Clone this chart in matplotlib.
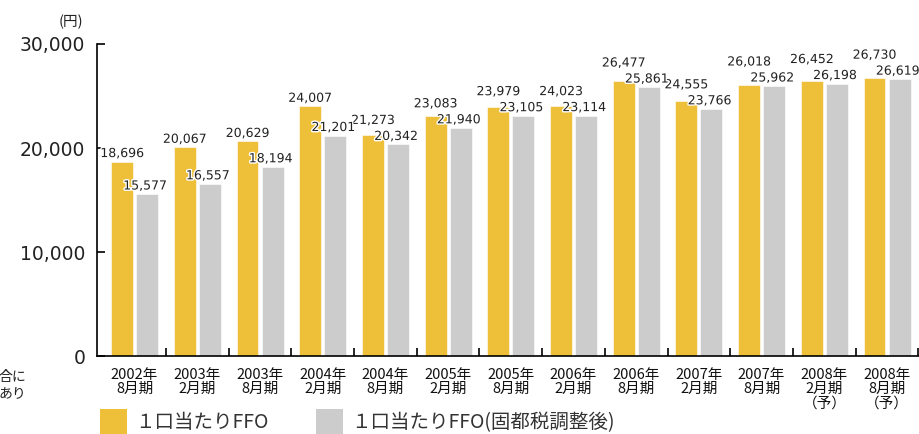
import matplotlib
matplotlib.use("Agg")
import matplotlib.pyplot as plt
import matplotlib.patheffects as pe
from matplotlib.patches import Rectangle
import numpy as np

categories = ["2002年\n8月期", "2003年\n2月期", "2003年\n8月期", "2004年\n2月期",
              "2004年\n8月期", "2005年\n2月期", "2005年\n8月期", "2006年\n2月期",
              "2006年\n8月期", "2007年\n2月期", "2007年\n8月期", "2008年\n2月期\n（予）",
              "2008年\n8月期\n（予）"]
ffo = [18696, 20067, 20629, 24007, 21273, 23083, 23979, 24023, 26477, 24555, 26018, 26452, 26730]
ffo_adj = [15577, 16557, 18194, 21201, 20342, 21940, 23105, 23114, 25861, 23766, 25962, 26198, 26619]
series_names = ["１口当たりFFO", "１口当たりFFO(固都税調整後)"]
yticks = [0, 10000, 20000, 30000]

YELLOW = "#EEC03A"
GRAY = "#CCCCCC"
CJK = ["Noto Sans CJK JP", "DejaVu Sans"]

fig = plt.figure(figsize=(9.2, 4.34), dpi=100)
ax = fig.add_axes([97/920, (434-356)/434, (919-97)/920, 312/434])

x = np.arange(len(categories))
w = 0.35
off = 0.2
ax.bar(x - off, ffo, width=w, color=YELLOW, edgecolor="white", linewidth=0.4)
ax.bar(x + off, ffo_adj, width=w, color=GRAY, edgecolor="white", linewidth=0.4)

ax.set_xlim(-0.6, 12.51)
ax.set_ylim(0, 30000)

# pixels per data unit (vertical)
px_per_unit = (ax.transData.transform((0, 1000))[1] - ax.transData.transform((0, 0))[1]) / 1000.0
pt_per_px = 72.0 / fig.dpi

stroke = [pe.withStroke(linewidth=2, foreground="white")]
lbl_kw = dict(textcoords="offset points", ha="center", va="baseline", fontsize=9,
              color="#222222", family="DejaVu Sans", path_effects=stroke,
              annotation_clip=False)
gap_px = 4.5
lift_px = 16.0
# yellow labels first, lifted above the gray label when needed
for xi, v, g in zip(x, ffo, ffo_adj):
    g_base_px = g * px_per_unit + gap_px
    y_base_px = max(v * px_per_unit + gap_px, g_base_px + lift_px)
    dy_px = y_base_px - v * px_per_unit
    ax.annotate(f"{v:,}", (xi - off, v), xytext=(0, dy_px * pt_per_px), zorder=4, **lbl_kw)
# gray labels on top, just above gray bars
for xi, g in zip(x, ffo_adj):
    ax.annotate(f"{g:,}", (xi + off, g), xytext=(-2 * pt_per_px, gap_px * pt_per_px), zorder=5, **lbl_kw)

ax.spines["top"].set_visible(False)
ax.spines["right"].set_visible(False)
for s in ("left", "bottom"):
    ax.spines[s].set_linewidth(1.2)
    ax.spines[s].set_color("black")

ax.set_yticks(yticks)
ax.set_yticklabels([f"{t:,}" for t in yticks], fontsize=13.5, family="DejaVu Sans", color="#222222")
ax.tick_params(axis="y", direction="in", length=5.8, width=1.2, pad=8.5)

ax.set_xticks(x)
ax.set_xticklabels(categories, fontsize=10.5, family=CJK, linespacing=1.05, color="#111111")
ax.set_xticks(np.arange(0.5, len(categories), 1.0), minor=True)
ax.tick_params(axis="x", which="major", length=0, pad=8.5)
ax.tick_params(axis="x", which="minor", direction="in", length=5.8, width=1.2)

fig.text(71/920, 1-22/434, "(円)", fontsize=10.5, family=CJK, ha="center", va="center", color="#222222")
fig.text(26/920, 1-385/434, "合に\nあり", fontsize=10, family=CJK, ha="right", va="center",
         multialignment="right", color="#222222", linespacing=1.15)

# legend
fig.patches.append(Rectangle((100/920, 0), 27/920, 25/434, transform=fig.transFigure,
                             facecolor=YELLOW, edgecolor="none"))
fig.patches.append(Rectangle((316/920, 0), 27/920, 25/434, transform=fig.transFigure,
                             facecolor=GRAY, edgecolor="none"))
fig.text(135/920, 1-423/434, series_names[0], fontsize=14, family=CJK, ha="left", va="center", color="#333333")
fig.text(351/920, 1-423/434, series_names[1], fontsize=14, family=CJK, ha="left", va="center", color="#333333")

fig.savefig("out.png", dpi=100)
